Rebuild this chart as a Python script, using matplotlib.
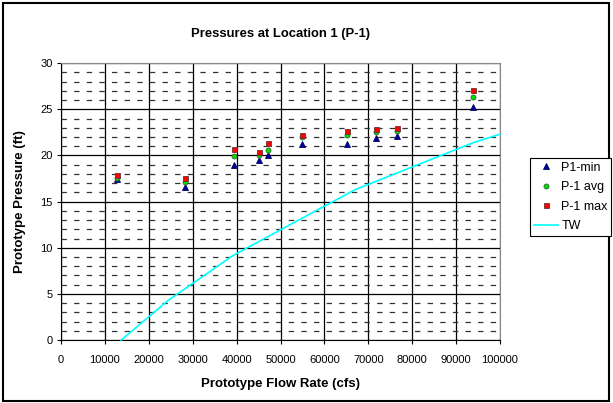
import matplotlib
matplotlib.use("Agg")
from matplotlib import pyplot as plt
from matplotlib.patches import Rectangle
from matplotlib.ticker import MultipleLocator

plt.rcParams['font.family'] = ['Liberation Sans', 'DejaVu Sans']

# caudal do protótipo (cfs) e pressões medidas (ft)
vazao = [12700, 28250, 39300, 45200, 47200, 55000, 65200, 71750, 76600, 93750]
p_min = [17.4, 16.6, 19.0, 19.5, 20.0, 21.2, 21.2, 21.9, 22.1, 25.3]
p_med = [17.6, 17.1, 19.9, 20.1, 20.6, 22.0, 22.2, 22.5, 22.6, 26.3]
p_max = [17.9, 17.6, 20.7, 20.4, 21.3, 22.2, 22.7, 22.9, 23.0, 27.1]

# nível de jusante (TW)
vazao_tw = [13700, 24400, 39300, 67000, 94000, 100000]
nivel_tw = [0.0, 4.3, 9.2, 16.3, 21.4, 22.3]

fig = plt.figure(figsize=(6.13, 4.03), dpi=100)
ax = fig.add_axes([0.0995, 0.156, 0.7162, 0.6874])

ax.plot(vazao, p_min, linestyle='none', marker='^', markersize=4,
        color='#000099', markeredgecolor='#000066', markeredgewidth=0.6,
        label='P1-min', zorder=4)
ax.plot(vazao, p_med, linestyle='none', marker='o', markersize=3.6,
        color='#00dd00', markeredgecolor='#336633', markeredgewidth=0.6,
        label='P-1 avg', zorder=4)
ax.plot(vazao, p_max, linestyle='none', marker='s', markersize=3.6,
        color='#ff0000', markeredgecolor='#663333', markeredgewidth=0.6,
        label='P-1 max', zorder=4)
ax.plot(vazao_tw, nivel_tw, color='#00ffff', linewidth=1.2, label='TW',
        zorder=3, clip_on=False)

ax.set_xlim(0, 100000)
ax.set_ylim(0, 30)
ax.xaxis.set_major_locator(MultipleLocator(10000))
ax.yaxis.set_major_locator(MultipleLocator(5))
ax.yaxis.set_minor_locator(MultipleLocator(1))

ax.grid(which='major', color='black', linewidth=0.9)
ax.grid(which='minor', axis='y', color='#333333', linewidth=0.9,
        linestyle=(0, (4.3, 5.8)))
ax.set_axisbelow(True)

ax.tick_params(axis='both', which='major', labelsize=8, length=3,
               width=0.8, direction='out', pad=3)
ax.tick_params(axis='y', which='minor', length=0)
ax.tick_params(axis='x', pad=8)

for lado in ['top', 'right']:
    ax.spines[lado].set_color('#888888')
for lado in ['left', 'bottom']:
    ax.spines[lado].set_color('black')

ax.set_title('Pressures at Location 1 (P-1)', fontsize=9.4,
             fontweight='bold', pad=19)
ax.set_xlabel('Prototype Flow Rate (cfs)', fontsize=9.5,
              fontweight='bold', labelpad=9)
ax.set_ylabel('Prototype Pressure (ft)', fontsize=9.5,
              fontweight='bold', labelpad=10)

fig.legend(loc='upper left', bbox_to_anchor=(530 / 613, 1 - 158 / 403),
           fontsize=9, frameon=True, fancybox=False, edgecolor='black',
           framealpha=1, handlelength=1.9, handletextpad=0.3,
           borderaxespad=0, borderpad=0.3, labelspacing=0.6)
leg = fig.legends[0]
leg.get_frame().set_linewidth(0.8)

# moldura externa do gráfico
fig.patches.append(Rectangle((3 / 613, 2 / 403), 606 / 613, 398 / 403,
                             transform=fig.transFigure, fill=False,
                             edgecolor='black', linewidth=1.5))

plt.savefig('out.png', dpi=100)
